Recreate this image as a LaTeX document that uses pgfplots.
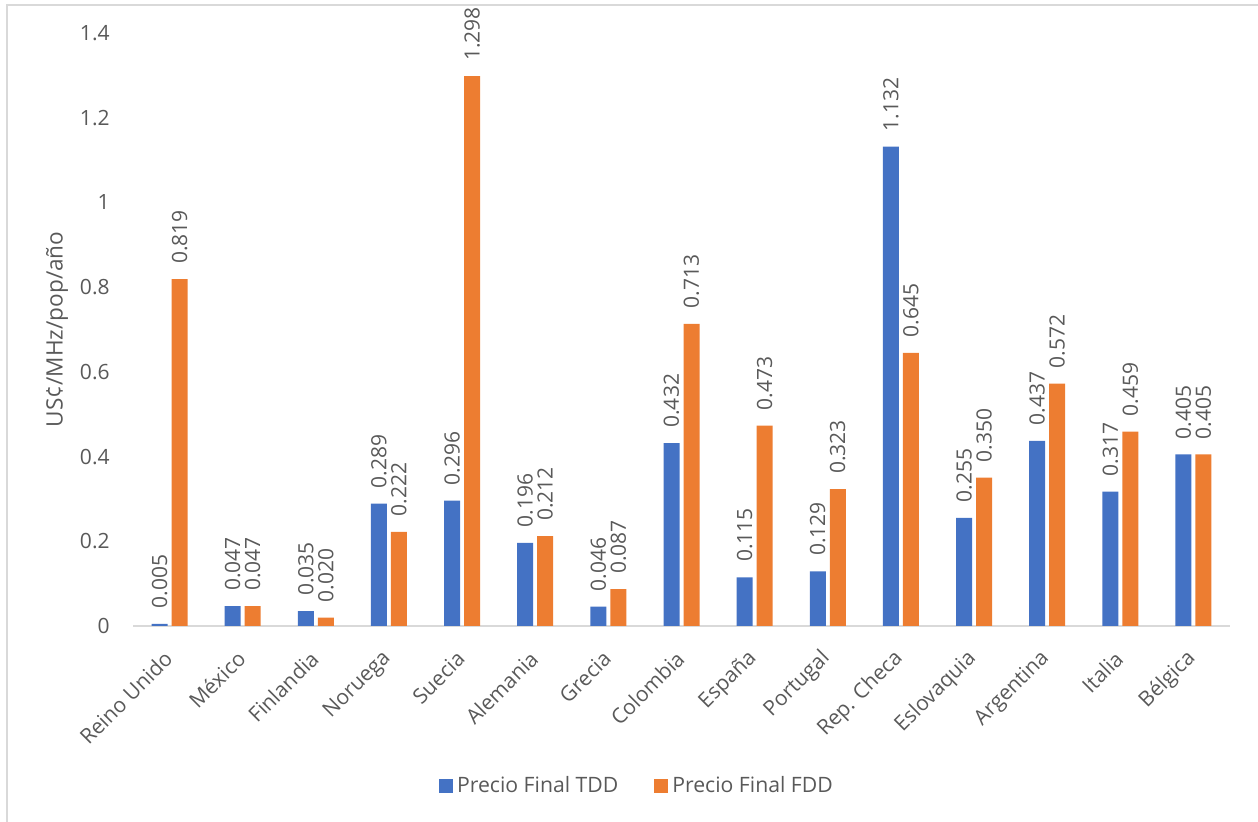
\documentclass[border=0pt]{standalone}
\usepackage{pgfplots}
\pgfplotsset{compat=1.18}
\usepackage{fontspec}
\setmainfont{Open Sans}
\definecolor{tdd}{HTML}{4472C4}
\definecolor{fdd}{HTML}{ED7D31}
\definecolor{txt}{HTML}{595959}
\definecolor{frame}{HTML}{D9D9D9}
\begin{document}
\begin{tikzpicture}
\path[use as bounding box] (0,0) rectangle (629pt,411pt);
\draw[frame, line width=1pt] (3.5pt,0pt) -- (3.5pt,408.5pt) -- (629pt,408.5pt);
\begin{axis}[
    at={(66.5pt,98pt)}, anchor=south west,
    scale only axis,
    width=548.5pt, height=296.5pt,
    ybar, bar width=8pt,
    xmin=-0.5, xmax=14.5,
    ymin=0, ymax=1.4,
    ytick={0,0.2,...,1.4},
    xtick=data,
    xticklabels={Reino Unido, México, Finlandia, Noruega, Suecia, Alemania, Grecia, Colombia, España, Portugal, Rep. Checa, Eslovaquia, Argentina, Italia, Bélgica},
    axis x line*=bottom,
    axis y line*=left,
    x axis line style={frame, line width=1pt, -},
    y axis line style={draw=none},
    major tick length=0pt,
    /pgf/number format/assume math mode=true,
    ticklabel style={font=\fontsize{10.5}{12}\selectfont, text=txt},
    yticklabel style={anchor=east, inner sep=0pt, xshift=-11.5pt},
    xticklabel style={xshift=-0.5pt, yshift=-14.5pt, rotate=45, anchor=east, inner sep=0pt},
    ylabel={US¢/MHz/pop/año},
    ylabel style={at={(axis description cs:-0.0693,0.5)}, anchor=center, font=\fontsize{11.3}{13}\selectfont, text=txt},
    nodes near coords={\pgfmathprintnumber[fixed,fixed zerofill,precision=3,assume math mode=true]{\pgfplotspointmeta}},
    nodes near coords style={rotate=90, anchor=west, inner xsep=7.5pt, inner ysep=0pt, font=\fontsize{10.5}{12}\selectfont, text=txt},
    legend columns=2,
    legend style={at={(axis description cs:0.4603,-0.27)}, anchor=center, draw=none, fill=none,
        font=\fontsize{10.6}{13}\selectfont, text=txt,
        /tikz/every even column/.append style={column sep=16pt}},
    legend image code/.code={\fill[#1] (0pt,-3.5pt) rectangle (7pt,3.5pt);},
    clip=false,
]
\addplot[fill=tdd, draw=none, bar shift=-5pt] coordinates {
    (0,0.005) (1,0.047) (2,0.035) (3,0.289) (4,0.296) (5,0.196) (6,0.046) (7,0.432)
    (8,0.115) (9,0.129) (10,1.132) (11,0.255) (12,0.437) (13,0.317) (14,0.405)
};
\addplot[fill=fdd, draw=none, bar shift=5pt] coordinates {
    (0,0.819) (1,0.047) (2,0.020) (3,0.222) (4,1.298) (5,0.212) (6,0.087) (7,0.713)
    (8,0.473) (9,0.323) (10,0.645) (11,0.350) (12,0.572) (13,0.459) (14,0.405)
};
\legend{Precio Final TDD, Precio Final FDD}
\end{axis}
\end{tikzpicture}
\end{document}
